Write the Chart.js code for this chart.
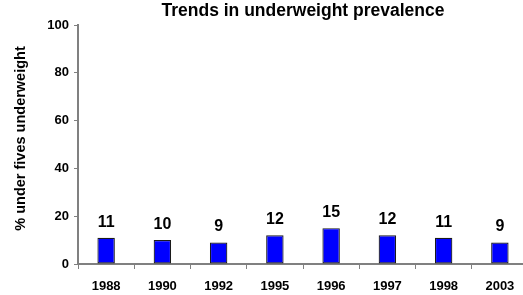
<!DOCTYPE html>
<html>
<head>
<meta charset="utf-8">
<script src="https://cdn.jsdelivr.net/npm/chart.js@4"></script>
<style>
  html, body { margin: 0; padding: 0; background: #fff; overflow: hidden; }
  #chart { display: block; }
</style>
</head>
<body>
<canvas id="chart" width="530" height="295"></canvas>
<script>
// survey years and underweight prevalence (%)
const years = ['1988', '1990', '1992', '1995', '1996', '1997', '1998', '2003'];
const underweight = [11, 10, 9, 12, 15, 12, 11, 9];
const yTicks = [0, 20, 40, 60, 80, 100];
const yTitle = '% under fives underweight';

const FONT = 'Liberation Sans, Arial, sans-serif';

// value above each bar + the rotated y axis title
const barLabels = {
    id: 'barLabels',
    afterDatasetsDraw(chart) {
        const ctx = chart.ctx;
        const meta = chart.getDatasetMeta(0);
        ctx.save();
        ctx.font = 'bold 16px ' + FONT;
        ctx.fillStyle = '#000';
        ctx.textAlign = 'center';
        ctx.textBaseline = 'alphabetic';
        meta.data.forEach((bar, i) => {
            ctx.fillText(String(underweight[i]), bar.x, bar.y - 11);
        });
        ctx.restore();

        // y title sits a little above the middle of the axis
        const area = chart.chartArea;
        ctx.save();
        ctx.font = 'bold 14.5px ' + FONT;
        ctx.fillStyle = '#000';
        ctx.textAlign = 'center';
        ctx.textBaseline = 'middle';
        ctx.translate(21, (area.top + area.bottom) / 2 - 6);
        ctx.rotate(-Math.PI / 2);
        ctx.fillText(yTitle, 0, 0);
        ctx.restore();
    }
};

new Chart(document.getElementById('chart'), {
    type: 'bar',
    data: {
        labels: years,
        datasets: [{
            data: underweight,
            backgroundColor: '#0000FF',
            borderColor: '#1a1a1a',
            borderWidth: 1.2,
            borderSkipped: false,
            barPercentage: 0.31,
            categoryPercentage: 1
        }]
    },
    options: {
        responsive: false,
        animation: false,
        devicePixelRatio: 1,
        layout: { padding: { left: 0, right: 2, top: 0, bottom: 0 } },
        plugins: {
            legend: { display: false },
            tooltip: { enabled: false },
            title: {
                display: true,
                fullSize: false,
                text: 'Trends in underweight prevalence',
                color: '#000',
                font: { family: FONT, size: 17.5, weight: 'bold' },
                padding: { top: 1, bottom: 3 }
            }
        },
        scales: {
            x: {
                afterFit: s => { s.height = 31; },
                grid: {
                    drawOnChartArea: false,
                    drawTicks: true,
                    tickLength: 5,
                    color: '#808080',
                    offset: true
                },
                border: { color: '#808080', width: 2 },
                ticks: {
                    color: '#000',
                    padding: 10,
                    maxRotation: 0,
                    font: { family: FONT, size: 13, weight: 'bold' }
                }
            },
            y: {
                min: 0,
                max: 100,
                afterFit: s => { s.width = 78; },
                afterBuildTicks: s => { s.ticks = yTicks.map(v => ({ value: v })); },
                grid: {
                    drawOnChartArea: false,
                    drawTicks: true,
                    tickLength: 4,
                    color: '#808080'
                },
                border: { color: '#808080', width: 2 },
                ticks: {
                    color: '#000',
                    padding: 5,
                    font: { family: FONT, size: 13, weight: 'bold' }
                }
            }
        }
    },
    plugins: [barLabels]
});
</script>
</body>
</html>
